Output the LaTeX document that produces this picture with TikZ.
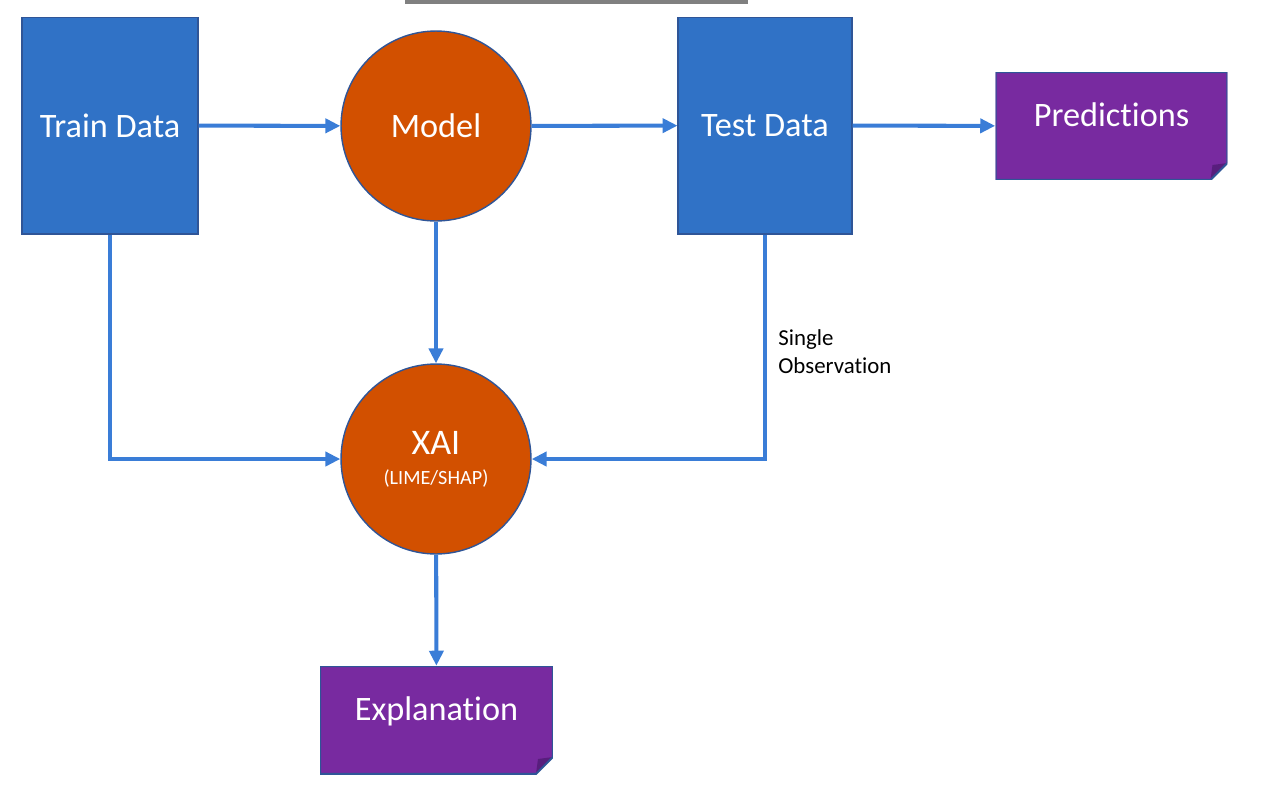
\documentclass[tikz,border=0pt]{standalone}
\usepackage{fontspec}
\setmainfont[RawFeature={-liga;-clig;-dlig}]{Carlito}
\usetikzlibrary{arrows.meta}
\definecolor{boxblue}{RGB}{48,114,198}
\definecolor{lineblue}{RGB}{47,85,151}
\definecolor{ballorange}{RGB}{210,80,0}
\definecolor{notepurple}{RGB}{120,42,160}
\definecolor{foldpurple}{RGB}{88,30,125}
\definecolor{arrowblue}{RGB}{58,125,215}

\tikzset{
  databox/.style={rectangle,draw=lineblue,line width=0.6pt,fill=boxblue,text=white,
    font=\fontsize{19.5}{22}\selectfont},
  ball/.style={circle,draw=lineblue,line width=0.8pt,fill=ballorange,text=white,
    minimum size=3.8cm,inner sep=0pt,font=\fontsize{19.5}{22}\selectfont},
  notebox/.style={rectangle,minimum width=4.64cm,minimum height=2.16cm,text=white,
    text depth=0.45cm,font=\fontsize{19.5}{22}\selectfont,
    path picture={
      \fill[notepurple] (path picture bounding box.north west)
        -- (path picture bounding box.north east)
        -- ([yshift=0.34cm]path picture bounding box.south east)
        -- ([xshift=-0.34cm]path picture bounding box.south east)
        -- (path picture bounding box.south west) -- cycle;
      \fill[foldpurple] ([yshift=0.34cm]path picture bounding box.south east)
        -- ([xshift=-0.34cm]path picture bounding box.south east)
        -- ([xshift=-0.3cm,yshift=0.3cm]path picture bounding box.south east) -- cycle;
      \draw[lineblue,line width=1.2pt] (path picture bounding box.north west)
        -- (path picture bounding box.north east)
        -- ([yshift=0.34cm]path picture bounding box.south east)
        -- ([xshift=-0.34cm]path picture bounding box.south east)
        -- (path picture bounding box.south west) -- cycle;
    }},
}

\begin{document}
\begin{tikzpicture}[x=0.02cm,y=-0.02cm]
\useasboundingbox (0,0) rectangle (1281,799);
\fill[gray] (405,0) rectangle (748,3.5);

\begin{scope}
    \node (A)[databox,minimum width=3.52cm,minimum height=4.34cm] at (110,125.5) {Train Data};
    \node (B)[ball] at (436,126) {Model};
    \node (C)[databox,minimum width=3.48cm,minimum height=4.34cm] at (765,125.5) {Test Data};
    \node (D)[notebox] at (1111.5,126) {Predictions};
    \node (E)[ball,align=center] at (436,459) {{\fontsize{20.5}{22}\selectfont XAI}\\[-5pt]{\fontsize{11.5}{13}\selectfont (LIME/SHAP)}};
    \node (F)[notebox,minimum width=4.66cm] at (436.5,720) {Explanation};
    \node (G)[anchor=north west,align=left,inner sep=0pt,
              font=\fontsize{13}{16}\selectfont] at (778,329) {Single\\Observation};
\end{scope}

\begin{scope}[every edge/.style={draw=arrowblue,line width=2.3pt,
              -{Triangle[length=8.5pt,width=8pt]}}]
    \path  (A) edge (B);
    \path  (B) edge (C);
    \path  (C) edge (D);
    \path  (B) edge (E);
    \path  (E) edge (F);
    \path  (A) edge[to path={|- (\tikztotarget)}] (E);
    \path  (C) edge[to path={|- (\tikztotarget)}] (E);
\end{scope}
\end{tikzpicture}
\end{document}
